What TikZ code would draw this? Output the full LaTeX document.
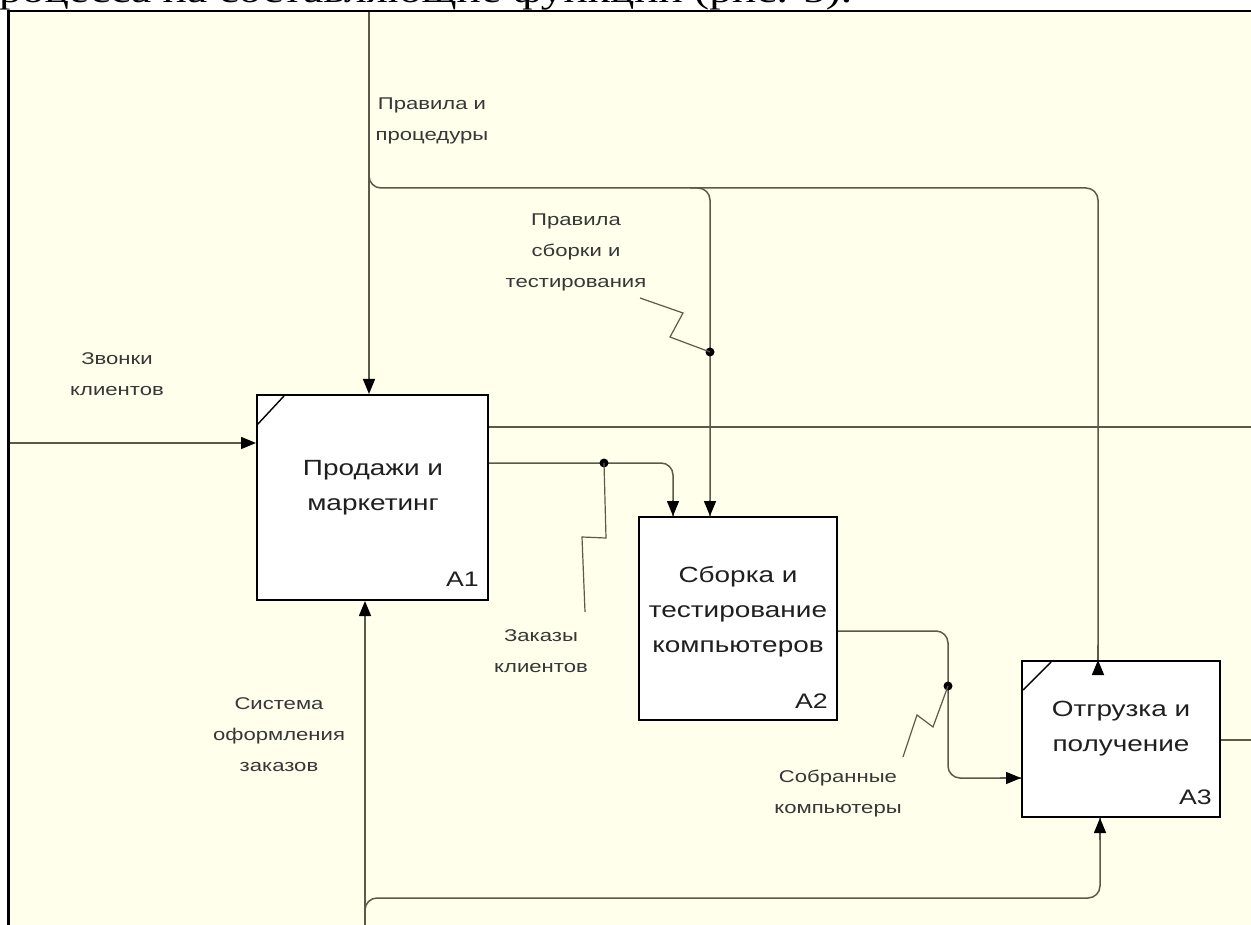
\documentclass[tikz,border=0pt]{standalone}
\usepackage{fontspec}
\setmainfont{Liberation Sans}
\newfontfamily\lblfont[FakeStretch=1.3]{Liberation Sans}
\newfontfamily\boxfont[FakeStretch=1.27]{Liberation Sans}
\newfontfamily\capfont[FakeStretch=1.28]{Liberation Serif}
\usetikzlibrary{arrows.meta}
\definecolor{bg}{RGB}{255,255,236}
\definecolor{wire}{RGB}{90,90,75}
\definecolor{lblc}{RGB}{55,55,55}
\begin{document}
\begin{tikzpicture}[x=1pt,y=-1pt,
  box/.style={draw=black, line width=2pt, fill=white, rectangle, inner sep=0pt},
  btxt/.style={font=\boxfont\fontsize{22}{35}\selectfont, align=center, text=black!88, inner sep=0pt},
  bnum/.style={font=\boxfont\fontsize{21}{24}\selectfont, text=black!88, inner sep=0pt, anchor=base east},
  lbl/.style={font=\lblfont\fontsize{17}{31}\selectfont, align=center, text=lblc, inner sep=0pt},
  wirel/.style={draw=wire, line width=1.5pt},
  arr/.style={wirel, -{Triangle[length=15pt,width=12pt,black]}},
  rc/.style={rounded corners=12pt},
  squig/.style={draw=wire, line width=1.2pt},
  dot/.style={circle, fill=black, inner sep=0pt, minimum size=9pt}
]
\useasboundingbox (0,0) rectangle (1251,925);
\fill[white] (0,0) rectangle (1251,925);
% clipped caption line above the figure
\begin{scope}
\clip (0,0) rectangle (1251,11);
\node[anchor=base west, inner sep=0pt, font=\capfont\fontsize{35.5}{38}\selectfont] (cap) at (-1,3) {роцесса на составляющие функции (рис. 5).};
\end{scope}
% cream drawing area and frame
\fill[bg] (9,11) rectangle (1251,925);
\draw[black, line width=1.5pt] (8,11) -- (1251,11);
\draw[black, line width=3pt] (8,10.25) -- (8,925);

% boxes
\node[box, minimum width=231pt, minimum height=205pt] (A1) at (372.5,497.5) {};
\node[box, minimum width=198pt, minimum height=203pt] (A2) at (738,618.5) {};
\node[box, minimum width=198pt, minimum height=156pt] (A3) at (1121,739) {};
\draw[black, line width=1.4pt] (257,425) -- (284,396);
\draw[black, line width=1.4pt] (1023,690) -- (1051,662);

\node[btxt] (A1t) at (373,488) {Продажи и\\маркетинг};
\node[btxt] (A2t) at (738,612) {Сборка и\\тестирование\\компьютеров};
\node[btxt] (A3t) at (1121,729) {Отгрузка и\\получение};
\node[bnum] (A1n) at (479,586) {A1};
\node[bnum] (A2n) at (828,708) {A2};
\node[bnum] (A3n) at (1212,804) {A3};

% coordinates
\coordinate (zin) at (10,443);
\coordinate (ctop) at (369,12);
\coordinate (cbr) at (369,170);
\coordinate (cturn) at (369,188);
\coordinate (cA3) at (1098,188);
\coordinate (cA2s) at (690,188);
\coordinate (cA2) at (710,188);
\coordinate (out1) at (1251,427);
\coordinate (ordA) at (673,463);
\coordinate (asmA) at (948,631);
\coordinate (asmB) at (948,778);
\coordinate (out3) at (1251,740);
\coordinate (mbot) at (365,925);
\coordinate (mbr) at (365,915);
\coordinate (mturn) at (365,898);
\coordinate (mA3) at (1100,898);

% connectors
\draw[arr] (zin) -- (zin -| A1.west);
\draw[arr] (ctop) -- (ctop |- A1.north);
\draw[wirel, rc] (cbr) -- (cturn) -- (cA3) -- (cA3 |- A3.north);
\draw[arr] (cA3 |- 0,660) -- (cA3 |- A3.north);
\draw[wirel, rc] (cA2s) -- (cA2) -- (cA2 |- A2.north);
\draw[arr] (cA2 |- 0,500) -- (cA2 |- A2.north);
\draw[wirel] (A1.east |- out1) -- (out1);
\draw[wirel, rc] (A1.east |- ordA) -- (ordA |- 0,463) -- (ordA |- A2.north);
\draw[arr] (ordA |- 0,500) -- (ordA |- A2.north);
\draw[wirel, rc] (A2.east |- asmA) -- (asmA) -- (asmB) -- (asmB -| A3.west);
\draw[arr] (1000,778) -- (asmB -| A3.west);
\draw[wirel] (A3.east |- out3) -- (out3);
\draw[arr] (mbot) -- (mbot |- A1.south);
\draw[wirel, rc] (mbr) -- (mturn) -- (mA3) -- (mA3 |- A3.south);
\draw[arr] (mA3 |- 0,840) -- (mA3 |- A3.south);

% junction dots and squiggles
\node[dot] (d1) at (710,352) {};
\node[dot] (d2) at (604,463) {};
\node[dot] (d3) at (948,686) {};
\draw[squig] (d1.center) -- (670,337) -- (683,313) -- (640,298);
\draw[squig] (d2.center) -- (606,538) -- (582,537) -- (585,612);
\draw[squig] (d3.center) -- (933,727) -- (917,715) -- (903,757);

% labels
\node[lbl] (lZv) at (117,374) {Звонки\\клиентов};
\node[lbl] (lPr) at (432,121) {Правила и\\процедуры};
\node[lbl] (lPs) at (576,252) {Правила\\сборки и\\тестирования};
\node[lbl] (lZk) at (541,651) {Заказы\\клиентов};
\node[lbl] (lSi) at (279,735) {Система\\оформления\\заказов};
\node[lbl] (lSo) at (838,794) {Собранные\\компьютеры};
\end{tikzpicture}
\end{document}
